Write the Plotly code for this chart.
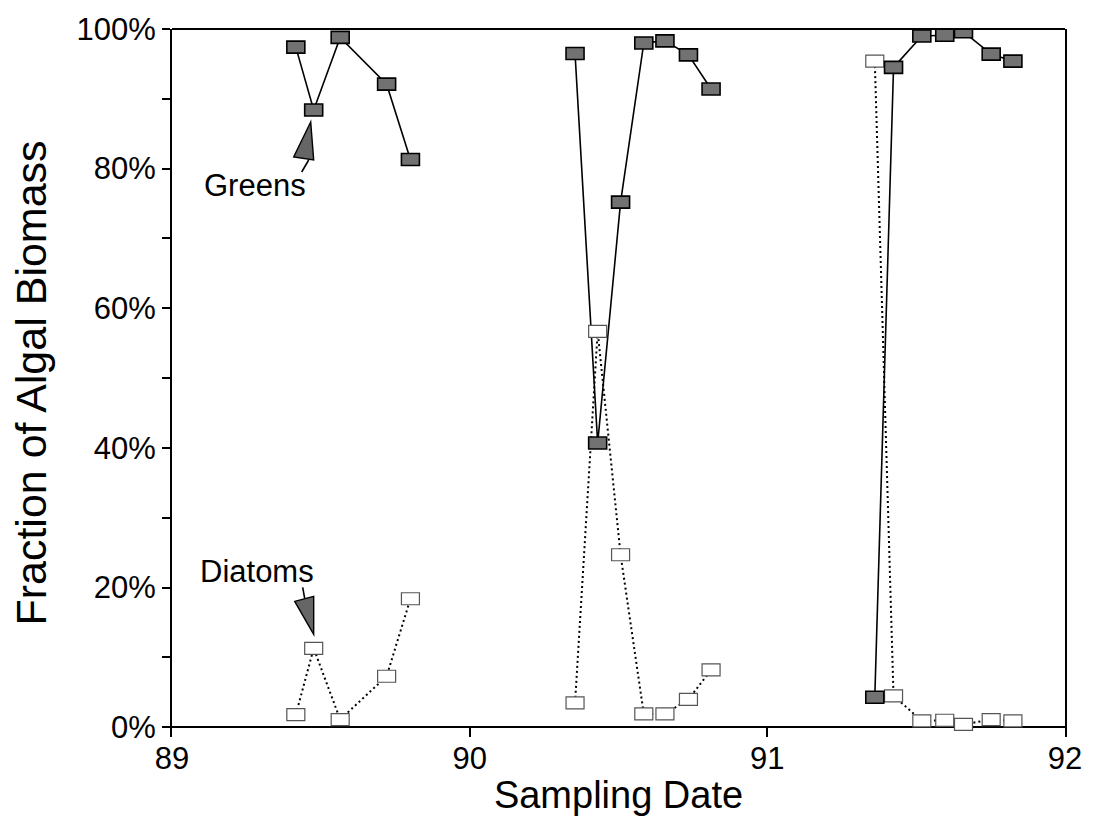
import plotly.graph_objects as go

# Sampling dates (decimal year, 19xx) and the share of algal biomass (%)
sample_dates = [89.416, 89.476, 89.565, 89.721, 89.801,
                90.354, 90.430, 90.507, 90.585, 90.656, 90.735, 90.811,
                91.361, 91.424, 91.519, 91.596, 91.659, 91.752, 91.825]
greens_pct = [97.4, 88.4, 98.8, 92.1, 81.3,
              96.5, 40.7, 75.2, 98.0, 98.3, 96.3, 91.4,
              4.3, 94.5, 99.0, 99.1, 99.6, 96.4, 95.4]
diatoms_pct = [1.8, 11.3, 1.1, 7.3, 18.4,
               3.5, 56.7, 24.7, 1.9, 1.9, 4.0, 8.2,
               95.4, 4.5, 0.9, 1.0, 0.4, 1.1, 0.9]

x_tick_vals = [89, 90, 91, 92]
x_tick_text = ["89", "90", "91", "92"]
y_tick_vals = [0, 20, 40, 60, 80, 100]
y_tick_text = ["0%", "20%", "40%", "60%", "80%", "100%"]
y_minor_vals = [10, 30, 50, 70, 90]

FONT = "Liberation Sans, Arial, Helvetica, sans-serif"
SEASON_GAP = 0.3  # years; lines are broken between sampling seasons


def split_seasons(xs, ys):
    out_x, out_y = [], []
    for i, (x, y) in enumerate(zip(xs, ys)):
        if i and x - xs[i - 1] > SEASON_GAP:
            out_x.append(None)
            out_y.append(None)
        out_x.append(x)
        out_y.append(y)
    return out_x, out_y


fig = go.Figure()

gx, gy = split_seasons(sample_dates, greens_pct)
dx, dy = split_seasons(sample_dates, diatoms_pct)

fig.add_trace(go.Scatter(x=gx, y=gy, mode="lines", name="Greens",
                         line=dict(color="black", width=1.6),
                         connectgaps=False, hoverinfo="x+y"))
fig.add_trace(go.Scatter(x=dx, y=dy, mode="lines", name="Diatoms",
                         line=dict(color="black", width=2, dash="2px,3px"),
                         connectgaps=False, hoverinfo="x+y"))

shapes = []
# rectangular sample markers, fixed pixel size, anchored at each data value
for x, y in zip(sample_dates, diatoms_pct):
    shapes.append(dict(type="rect", xref="x", yref="y",
                       xsizemode="pixel", ysizemode="pixel",
                       xanchor=x, yanchor=y, x0=-9, x1=9, y0=-6, y1=6,
                       fillcolor="white", line=dict(color="#555555", width=1.2),
                       layer="above"))
for x, y in zip(sample_dates, greens_pct):
    shapes.append(dict(type="rect", xref="x", yref="y",
                       xsizemode="pixel", ysizemode="pixel",
                       xanchor=x, yanchor=y, x0=-9, x1=9, y0=-6, y1=6,
                       fillcolor="#727272", line=dict(color="black", width=1.6),
                       layer="above"))

# pointer wedges for the two labels, anchored at the marked samples
shapes.append(dict(type="path", xref="x", yref="y",
                   xsizemode="pixel", ysizemode="pixel",
                   xanchor=sample_dates[1], yanchor=greens_pct[1],
                   path="M -3 -12 L -20 -47 L 0 -50 Z",
                   fillcolor="#666666", line=dict(color="black", width=1.4),
                   layer="above"))
shapes.append(dict(type="path", xref="x", yref="y",
                   xsizemode="pixel", ysizemode="pixel",
                   xanchor=sample_dates[1], yanchor=greens_pct[1],
                   path="M -5 -50 L -12 -62",
                   line=dict(color="black", width=1.6), layer="above"))
shapes.append(dict(type="path", xref="x", yref="y",
                   xsizemode="pixel", ysizemode="pixel",
                   xanchor=sample_dates[1], yanchor=diatoms_pct[1],
                   path="M 0 14 L -19 47 L 0 52 Z",
                   fillcolor="#666666", line=dict(color="black", width=1.4),
                   layer="above"))
shapes.append(dict(type="path", xref="x", yref="y",
                   xsizemode="pixel", ysizemode="pixel",
                   xanchor=sample_dates[1], yanchor=diatoms_pct[1],
                   path="M -9 50 L -11 61",
                   line=dict(color="black", width=1.6), layer="above"))

# top border of the frame
shapes.append(dict(type="line", xref="paper", yref="paper",
                   x0=0, x1=1, y0=1, y1=1,
                   line=dict(color="black", width=2), layer="above"))

fig.update_layout(
    width=1094, height=825,
    margin=dict(l=172, r=22, t=26, b=88),
    paper_bgcolor="white", plot_bgcolor="white",
    showlegend=False,
    font=dict(family=FONT, color="black"),
    shapes=shapes,
    annotations=[
        dict(x=89.28, y=77.6, xref="x", yref="y", text="Greens",
             showarrow=False, font=dict(size=31, family=FONT, color="black")),
        dict(x=89.287, y=22.3, xref="x", yref="y", text="Diatoms",
             showarrow=False, font=dict(size=31, family=FONT, color="black")),
    ],
)

fig.update_xaxes(
    range=[89, 92],
    tickmode="array", tickvals=x_tick_vals, ticktext=x_tick_text,
    ticks="inside", ticklen=10, tickwidth=1.6, tickcolor="black",
    showline=False, showgrid=False, zeroline=False,
    tickfont=dict(size=31, family=FONT, color="black"),
    title=dict(text="Sampling Date", font=dict(size=38, family=FONT, color="black"),
               standoff=6),
)
fig.update_yaxes(
    range=[-1.4, 100],
    tickmode="array", tickvals=y_tick_vals, ticktext=y_tick_text,
    ticks="outside", ticklen=8, tickwidth=1.6, tickcolor="black",
    minor=dict(tickmode="array", tickvals=y_minor_vals, ticks="outside",
               ticklen=8, tickwidth=1.6, tickcolor="black"),
    showline=True, mirror=True, linewidth=2, linecolor="black",
    zeroline=True, zerolinecolor="black", zerolinewidth=2,
    showgrid=False,
    tickfont=dict(size=31, family=FONT, color="black"),
    title=dict(text="Fraction of Algal Biomass",
               font=dict(size=43, family=FONT, color="black"), standoff=16),
)

fig.write_html("out.html")
